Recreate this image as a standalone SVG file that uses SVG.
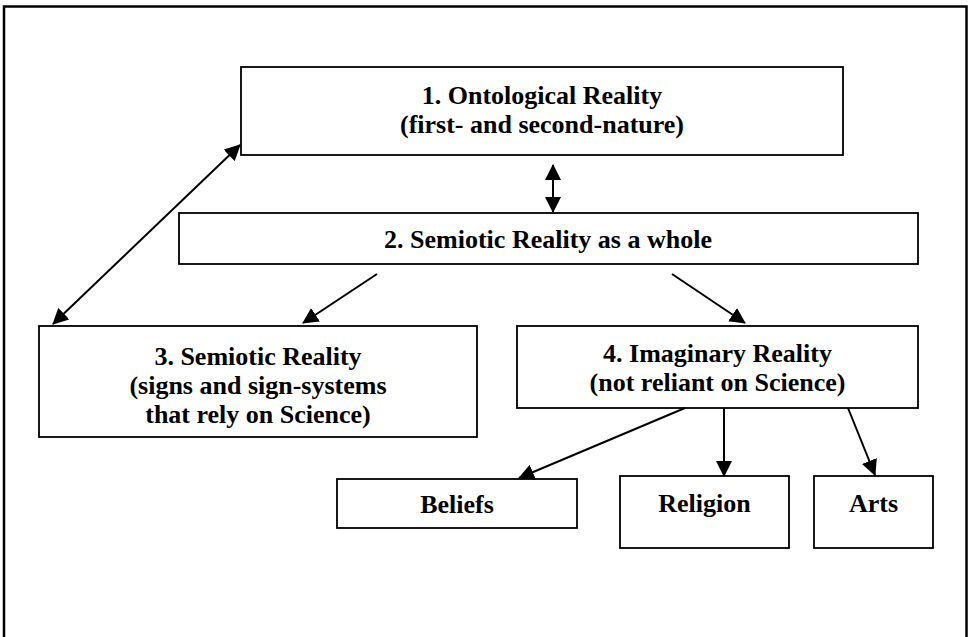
<svg xmlns="http://www.w3.org/2000/svg" width="968" height="637" viewBox="0 0 968 637">
<style>
.box{fill:#fff;stroke:#000;stroke-width:1.8}
.t{font-family:"Liberation Serif","Times New Roman",serif;font-weight:bold;font-size:26px;fill:#000;text-anchor:middle}
.c{stroke:#000;stroke-width:2;fill:none}
</style>
<defs>
<marker id="ah" markerUnits="userSpaceOnUse" markerWidth="16" markerHeight="16" refX="15" refY="8" orient="auto-start-reverse" viewBox="0 0 16 16">
<path d="M0,0 L16,8 L0,16 z" fill="#000"/>
</marker>
</defs>
<rect width="968" height="637" fill="#fff"/>
<path d="M4,640 V6.5 H966.5 V640" fill="none" stroke="#000" stroke-width="2.5"/>
<g id="n1"><rect class="box" x="241" y="67" width="602" height="88"/><text class="t" x="542" y="104">1. Ontological Reality</text><text class="t" x="542" y="133">(first- and second-nature)</text></g>
<g id="n2"><rect class="box" x="179" y="213" width="739" height="51"/><text class="t" x="548" y="248">2. Semiotic Reality as a whole</text></g>
<g id="n3"><rect class="box" x="39" y="326" width="438" height="111"/><text class="t" x="258" y="365">3. Semiotic Reality</text><text class="t" x="258" y="394">(signs and sign-systems</text><text class="t" x="258" y="423">that rely on Science)</text></g>
<g id="n4"><rect class="box" x="517" y="326" width="401" height="82"/><text class="t" x="717.5" y="362">4. Imaginary Reality</text><text class="t" x="717.5" y="391">(not reliant on Science)</text></g>
<g id="n5"><rect class="box" x="337" y="479" width="240" height="49"/><text class="t" x="457" y="513">Beliefs</text></g>
<g id="n6"><rect class="box" x="620" y="476" width="169" height="72"/><text class="t" x="704.5" y="512">Religion</text></g>
<g id="n7"><rect class="box" x="814" y="476" width="119" height="72"/><text class="t" x="873.5" y="512">Arts</text></g>
<g id="connectors">
<line class="c" x1="553" y1="165" x2="553" y2="212" marker-start="url(#ah)" marker-end="url(#ah)"/>
<line class="c" x1="53" y1="324" x2="240" y2="145" marker-start="url(#ah)" marker-end="url(#ah)"/>
<line class="c" x1="377" y1="274" x2="303" y2="323" marker-end="url(#ah)"/>
<line class="c" x1="672" y1="274" x2="745" y2="323" marker-end="url(#ah)"/>
<line class="c" x1="685" y1="408" x2="519" y2="478" marker-end="url(#ah)"/>
<line class="c" x1="724" y1="408" x2="724" y2="476" marker-end="url(#ah)"/>
<line class="c" x1="848" y1="408" x2="875" y2="475" marker-end="url(#ah)"/>
</g>
</svg>
